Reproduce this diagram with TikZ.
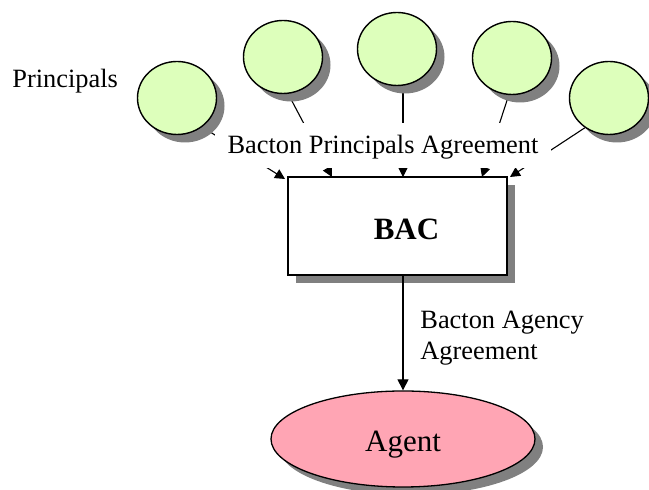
\documentclass[tikz,border=0pt]{standalone}
\usepackage{fontspec}
\setmainfont{Liberation Serif}
\usetikzlibrary{shapes.geometric,shadows,arrows.meta,backgrounds}
\definecolor{princ}{RGB}{221,255,187}
\definecolor{agentpink}{RGB}{255,165,180}
\definecolor{shade}{RGB}{128,128,128}
\begin{document}
\begin{tikzpicture}[x=0.5pt,y=-0.5pt,
  myshadow/.style={drop shadow={shadow xshift=4pt,shadow yshift=-4pt,fill=shade,opacity=1}},
  principal/.style={ellipse,draw,line width=0.7pt,fill=princ,inner sep=0pt,
    minimum width=39.5pt,minimum height=36.5pt,myshadow},
  conn/.style={line width=0.55pt},
  arr/.style={conn,-{Triangle[length=5pt,width=5pt]}},
  lbl/.style={font=\fontsize{13.2}{15.5}\selectfont,inner sep=0pt}]
\useasboundingbox (0,0) rectangle (649,490);

\node[lbl,fill=white,anchor=base,inner xsep=6.5pt,text height=15.5pt,text depth=7pt] (pa) at (383,154) {Bacton Principals Agreement};

\node[principal] (c1) at (177,98) {};
\node[principal] (c2) at (283,57) {};
\node[principal] (c3) at (397,49) {};
\node[principal] (c4) at (512,58) {};
\node[principal] (c5) at (609,98) {};

\node[lbl,anchor=base west] (plabel) at (12,88) {Principals};

\node[draw,fill=white,line width=0.65pt,minimum width=109.5pt,minimum height=49pt,inner sep=0pt,
  text height=14pt,text depth=0pt,myshadow,font=\fontsize{15.5}{18}\selectfont\bfseries] (bac) at (397.5,226) {\hspace*{9pt}BAC};

\node[ellipse,draw,fill=agentpink,line width=0.65pt,minimum width=132pt,minimum height=48pt,inner sep=0pt,
  text height=13pt,text depth=0pt,myshadow,font=\fontsize{15.5}{18}\selectfont] (agent) at (403,439) {Agent};

\node[lbl,anchor=base west] (aa1) at (420,329) {Bacton Agency};
\node[lbl,anchor=base west] (aa2) at (420,360) {Agreement};

\coordinate (t1) at (285,179);
\coordinate (t2) at (332,177);
\coordinate (t3) at (403,177);
\coordinate (t4) at (482,177);
\coordinate (t5) at (510,177);

\begin{scope}[on background layer]
  \draw[arr] (c1.311) -- (t1);
  \draw[arr] (c2.278) -- (t2);
  \draw[arr] (t3 |- c3.center) -- (t3);
  \draw[arr] (c4.265) -- (t4);
  \draw[arr] (c5.231) -- (t5);
\end{scope}

\draw[conn,-{Triangle[length=5.5pt,width=5.5pt]}] (agent.north |- bac.south) -- (agent.north);
\end{tikzpicture}
\end{document}
